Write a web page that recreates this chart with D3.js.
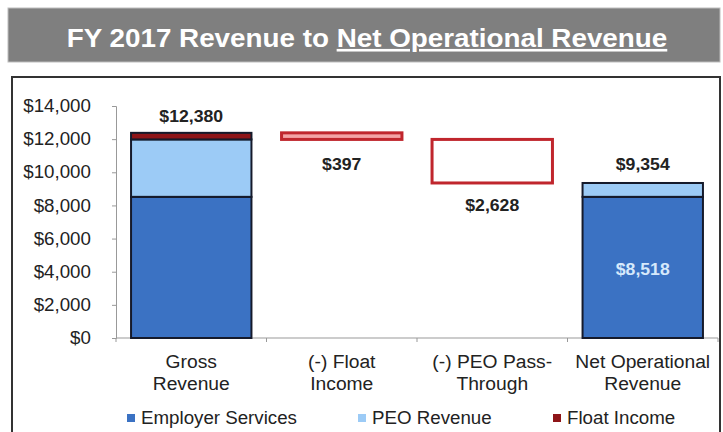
<!DOCTYPE html>
<html>
<head>
<meta charset="utf-8">
<title>FY 2017 Revenue</title>
<script src="https://d3js.org/d3.v7.min.js"></script>
<style>
body { margin: 0; background: #fff; }
text { font-family: "Liberation Sans", Arial, sans-serif; }
</style>
</head>
<body>
<script>
// data
var categories = ["Gross\nRevenue", "(-) Float\nIncome", "(-) PEO Pass-\nThrough", "Net Operational\nRevenue"];
var employerServices = [8518, 0, 0, 8518];
var peoRevenue = [3465, 0, 0, 836];
var floatIncome = [397, 0, 0, 0];
var deductions = [0, 397, 2628, 0];
var totals = ["$12,380", "$397", "$2,628", "$9,354"];
var yTicks = [0, 2000, 4000, 6000, 8000, 10000, 12000, 14000];
var legendNames = ["Employer Services", "PEO Revenue", "Float Income"];
var colors = ["#3b72c3", "#9ccbf6", "#8e1518"];

var width = 723, height = 432;
var sx = 1.07; // the source text is a bit wider than Arial
var svg = d3.select("body").append("svg").attr("width", width).attr("height", height);

// put text at x,y, stretched a little horizontally
function label(parent, x, y, size) {
    return parent.append("text").attr("transform", "translate(" + x + "," + y + ") scale(" + sx + ",1)")
        .attr("font-size", size).attr("fill", "#222");
}

// title banner
svg.append("rect").attr("x", 8).attr("y", 8).attr("width", 712).attr("height", 54)
    .attr("fill", "#7f7f7f").attr("stroke", "#bdbdbd");
var title = label(svg, 367, 47, 26).attr("text-anchor", "middle")
    .attr("fill", "#fff").attr("font-weight", "bold");
title.append("tspan").text("FY 2017 Revenue to ");
title.append("tspan").attr("text-decoration", "underline").text("Net Operational Revenue");

// chart frame
svg.append("rect").attr("x", 12).attr("y", 77).attr("width", 708).attr("height", 370)
    .attr("fill", "none").attr("stroke", "#333").attr("stroke-width", 2);

var x = d3.scaleBand().domain(d3.range(categories.length)).range([116, 718])
    .paddingInner(0.2).paddingOuter(0.1);
var y = d3.scaleLinear().domain([0, 14000]).range([338, 106]);

// y axis
var yAxis = svg.append("g").attr("transform", "translate(116,0)")
    .call(d3.axisLeft(y).tickValues(yTicks).tickSize(4).tickPadding(19.5)
        .tickFormat(function(d) { return "$" + d3.format(",")(d); }));
yAxis.select(".domain").attr("stroke", "#999");
yAxis.selectAll(".tick line").attr("stroke", "#999");
yAxis.selectAll("text").attr("font-size", 17.5).attr("fill", "#222")
    .attr("font-family", "Liberation Sans, Arial, sans-serif")
    .attr("transform", "scale(" + sx + ",1)");

// x baseline with ticks at band boundaries
svg.append("line").attr("x1", 116).attr("x2", 718).attr("y1", 338).attr("y2", 338).attr("stroke", "#999");
d3.range(categories.length + 1).forEach(function(i) {
    var xx = 116 + i * x.step();
    svg.append("line").attr("x1", xx).attr("x2", xx).attr("y1", 338).attr("y2", 342).attr("stroke", "#999");
});

// stacked bars
var stackData = categories.map(function(c, i) {
    return {i: i, es: employerServices[i], peo: peoRevenue[i], fl: floatIncome[i]};
});
var stack = d3.stack().keys(["es", "peo", "fl"])(stackData);
stack.forEach(function(layer, k) {
    svg.append("g").selectAll("rect").data(layer.filter(function(d) { return d[1] > d[0]; }))
        .enter().append("rect")
        .attr("x", function(d) { return x(d.data.i); })
        .attr("width", x.bandwidth())
        .attr("y", function(d) { return y(d[1]); })
        .attr("height", function(d) { return y(d[0]) - y(d[1]); })
        .attr("fill", colors[k])
        .attr("stroke", "#151a2b").attr("stroke-width", 2);
});

// floating deduction boxes
var running = [];
var level = employerServices[0] + peoRevenue[0] + floatIncome[0];
deductions.forEach(function(d, i) {
    if (d > 0) { running.push({i: i, top: level, bottom: level - d}); level -= d; }
});
svg.append("g").selectAll("rect").data(running).enter().append("rect")
    .attr("x", function(d) { return x(d.i); })
    .attr("width", x.bandwidth())
    .attr("y", function(d) { return y(d.top); })
    .attr("height", function(d) { return y(d.bottom) - y(d.top); })
    .attr("fill", function(d) { return d.i === 1 ? "#f3a3a5" : "#fff"; })
    .attr("stroke", "#c0262d").attr("stroke-width", 3);

// value labels
var lbl = svg.append("g").attr("font-weight", "bold").attr("text-anchor", "middle");
function cx(i) { return x(i) + x.bandwidth() / 2; }
label(lbl, cx(0), y(12380) - 11, 16.5).text(totals[0]);
label(lbl, cx(1), y(running[0].bottom) + 31, 16.5).text(totals[1]);
label(lbl, cx(2), y(running[1].bottom) + 28, 16.5).text(totals[2]);
label(lbl, cx(3), y(9354) - 13, 16.5).text(totals[3]);
label(lbl, cx(3), y(employerServices[3] / 2) + 8, 16.5)
    .attr("fill", "#d6e9fb").text("$" + d3.format(",")(employerServices[3]));

// category labels
categories.forEach(function(c, i) {
    var t = label(svg, cx(i), 368, 18).attr("text-anchor", "middle");
    c.split("\n").forEach(function(line, j) {
        t.append("tspan").attr("x", 0).attr("dy", j ? 22 : 0).text(line);
    });
});

// legend
var legendX = [127, 358, 553];
legendNames.forEach(function(n, i) {
    svg.append("rect").attr("x", legendX[i]).attr("y", 414).attr("width", 8).attr("height", 8).attr("fill", colors[i]);
    label(svg, legendX[i] + 14, 424, 17.5).text(n);
});
</script>
</body>
</html>
